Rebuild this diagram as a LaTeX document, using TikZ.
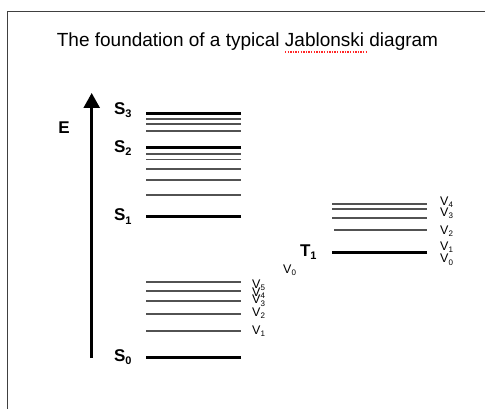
\documentclass[tikz,border=0pt]{standalone}
\usepackage{fontspec}
\setmainfont{Liberation Sans}
\usetikzlibrary{arrows.meta}

\newcommand{\ssub}[1]{\raisebox{-0.2em}{\fontsize{11}{11}\selectfont #1}}
\newcommand{\vsub}[1]{\raisebox{-0.2em}{\fontsize{8}{8}\selectfont #1}}

\tikzset{
    thinlevel/.style={draw=black!68, line width=1.4pt},
    thicklevel/.style={draw=black, line width=3pt},
    statelabel/.style={font=\fontsize{17}{20}\selectfont\bfseries, inner sep=0pt},
    vlabel/.style={font=\fontsize{12.5}{13}\selectfont, inner sep=0pt, anchor=west},
}

\begin{document}
\begin{tikzpicture}[x=1pt,y=-1pt]
    \useasboundingbox (0,0) rectangle (485,409);
    \fill[white] (0,0) rectangle (485,409);
    \draw[black!75, line width=1.2pt] (7.5,11.5) rectangle (500,430);
    % title
    \node (title) at (247.5,42) {\fontsize{19}{23}\selectfont The foundation of a typical Jablonski diagram};
    \draw[red!85, line width=1.3pt, dash pattern=on 1.3pt off 1.3pt] (285,52) -- (366,52);
    % energy axis
    \coordinate (ebot) at (91.7,358);
    \coordinate (etop) at (91.7,93);
    \draw[line width=2.5pt, -{Triangle[length=15pt,width=16pt]}] (ebot) -- (etop);
    \node[statelabel] (e) at (64,128) {E};
    % singlet levels
    \draw[thicklevel] (241,357) -- (146,357) node[statelabel, left=13pt] (s0) {S\ssub{0}};
    \draw[thinlevel] (146,331) -- (241,331);
    \draw[thinlevel] (146,314) -- (241,314);
    \draw[thinlevel] (146,301) -- (241,301);
    \draw[thinlevel] (146,291) -- (241,291);
    \draw[thinlevel] (146,282) -- (241,282);
    \draw[thicklevel] (241,216.7) -- (146,216.7) node[statelabel, left=13pt] (s1) {S\ssub{1}};
    \draw[thinlevel] (146,195) -- (241,195);
    \draw[thinlevel] (146,180) -- (241,180);
    \draw[thinlevel] (146,169) -- (241,169);
    \draw[thinlevel] (146,159.5) -- (241,159.5);
    \draw[thinlevel] (146,154) -- (241,154);
    \draw[thicklevel] (241,148) -- (146,148) node[statelabel, left=13pt] (s2) {S\ssub{2}};
    \draw[thinlevel] (146,131) -- (241,131);
    \draw[thinlevel] (146,124) -- (241,124);
    \draw[thinlevel] (146,119) -- (241,119);
    \draw[thicklevel] (241,114) -- (146,114) node[statelabel, left=13pt, yshift=4pt] (s3) {S\ssub{3}};
    % triplet levels
    \draw[thicklevel] (427,252) -- (332,252) node[statelabel, left=14pt] (t1) {T\ssub{1}};
    \draw[thinlevel] (334,230) -- (427,230);
    \draw[thinlevel] (332,218) -- (427,218);
    \draw[thinlevel] (332,209) -- (427,209);
    \draw[thinlevel] (332,204) -- (427,204);
    % vibrational labels
    \node[vlabel] (sv5) at (252,285) {V\vsub{5}};
    \node[vlabel] (sv4) at (252,293) {V\vsub{4}};
    \node[vlabel] (sv3) at (252,300.5) {V\vsub{3}};
    \node[vlabel] (sv2) at (252,313) {V\vsub{2}};
    \node[vlabel] (sv1) at (252,331) {V\vsub{1}};
    \node[vlabel] (sv0) at (283,270) {V\vsub{0}};
    \node[vlabel] (tv4) at (440,202) {V\vsub{4}};
    \node[vlabel] (tv3) at (440,213) {V\vsub{3}};
    \node[vlabel] (tv2) at (440,231) {V\vsub{2}};
    \node[vlabel] (tv1) at (440,247) {V\vsub{1}};
    \node[vlabel] (tv0) at (440,259.5) {V\vsub{0}};
\end{tikzpicture}
\end{document}
